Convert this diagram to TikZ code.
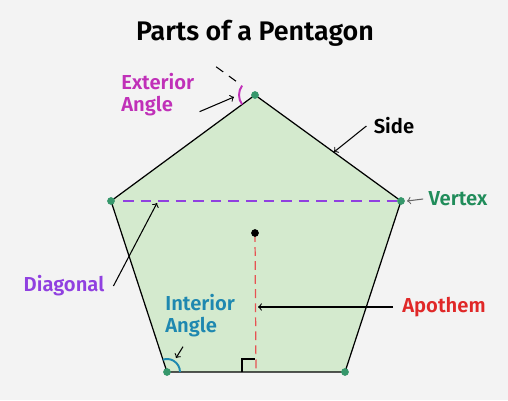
\documentclass[tikz,border=0pt]{standalone}
\usepackage{fontspec}
\setmainfont{Fira Sans}[BoldFont={Fira Sans SemiBold}]
\usetikzlibrary{arrows}
\usetikzlibrary{calc}
\definecolor{bgcol}{RGB}{243,243,243}
\definecolor{pentfill}{RGB}{212,234,206}
\definecolor{vertgreen}{RGB}{32,140,90}
\definecolor{extcol}{RGB}{192,48,184}
\definecolor{diagcol}{RGB}{144,64,224}
\definecolor{intcol}{RGB}{30,136,176}
\definecolor{apocol}{RGB}{224,40,40}

\begin{document}
\begin{tikzpicture}[x=0.02cm,y=0.02cm,
  lbl/.style={font=\fontsize{11.5}{12.5}\selectfont\bfseries,inner sep=0pt,align=left},
  pointer/.style={->,line width=0.6pt}]
			\fill [bgcol] (0,0) rectangle (508,400);
			% corners of the pentagon
			\coordinate (top) at (255,305);
			\coordinate (rgt) at (401,199);
			\coordinate (brt) at (345,28);
			\coordinate (blf) at (167,28);
			\coordinate (lft) at (111,199);
			\coordinate (ctr) at (255,167);
			\filldraw [fill=pentfill,draw=black,line width=0.7pt] (top) -- (rgt) -- (brt) -- (blf) -- (lft) -- cycle;
			\draw [diagcol,line width=0.6pt,dash pattern=on 6pt off 4pt] ($(lft)+(12,0)$) -- (rgt);
			\draw [apocol!80,line width=0.7pt,dash pattern=on 5pt off 3pt] (ctr) -- ($(blf)!0.5!(brt)$);
			\draw [line width=0.8pt] (242,28) -- (242,41) -- (255,41);
			\draw [line width=0.6pt,dash pattern=on 5pt off 4pt] ($(top)!-0.13!(rgt)$) -- ($(top)!-0.27!(rgt)$);
			\draw [extcol,line width=1.1pt] ($(top)+(144:16)$) arc [start angle=144,end angle=216,radius=16];
			\draw [intcol,line width=1.1pt] ($(blf)+(0:13)$) arc [start angle=0,end angle=108,radius=13];
			\fill (ctr) circle (2.2pt);
			\foreach \v in {top,rgt,brt,blf,lft}
				\fill [vertgreen!90] (\v) circle (2.2pt);
			% labels
			\node [font=\fontsize{15.3}{16}\selectfont\bfseries] (title) at (255,367) {Parts of a Pentagon};
			\node [lbl,extcol,anchor=west] (ext) at (121,305) {Exterior\\Angle};
			\node [lbl,anchor=center] (side) at (394,274) {Side};
			\node [lbl,vertgreen,anchor=center] (vert) at (458,201) {Vertex};
			\node [lbl,diagcol,anchor=center] (diag) at (64,114) {Diagonal};
			\node [lbl,intcol,anchor=west] (int) at (165,84) {Interior\\Angle};
			\node [lbl,apocol,anchor=center] (apo) at (444,93) {Apothem};
			\coordinate (extTip) at (234,303);
			\coordinate (sideTip) at (334,248);
			\coordinate (vertTip) at (407,199);
			\coordinate (diagTip) at (157,197);
			\coordinate (intTip) at (176,42);
			\coordinate (apoTip) at (258,93);
			\draw [pointer] ($(ext.south east)+(5,5)$) -- (extTip);
			\draw [pointer] ([xshift=-4pt]side.west) -- (sideTip);
			\draw [pointer,gray!80!black] ([xshift=-3pt]vert.west) -- (vertTip);
			\draw [pointer] ([xshift=5pt]diag.east) -- (diagTip);
			\draw [pointer] ($(int.south west)+(18,-9)$) -- (intTip);
			\draw [pointer] ([xshift=-5pt]apo.west) -- (apoTip);
			\end{tikzpicture}
\end{document}
